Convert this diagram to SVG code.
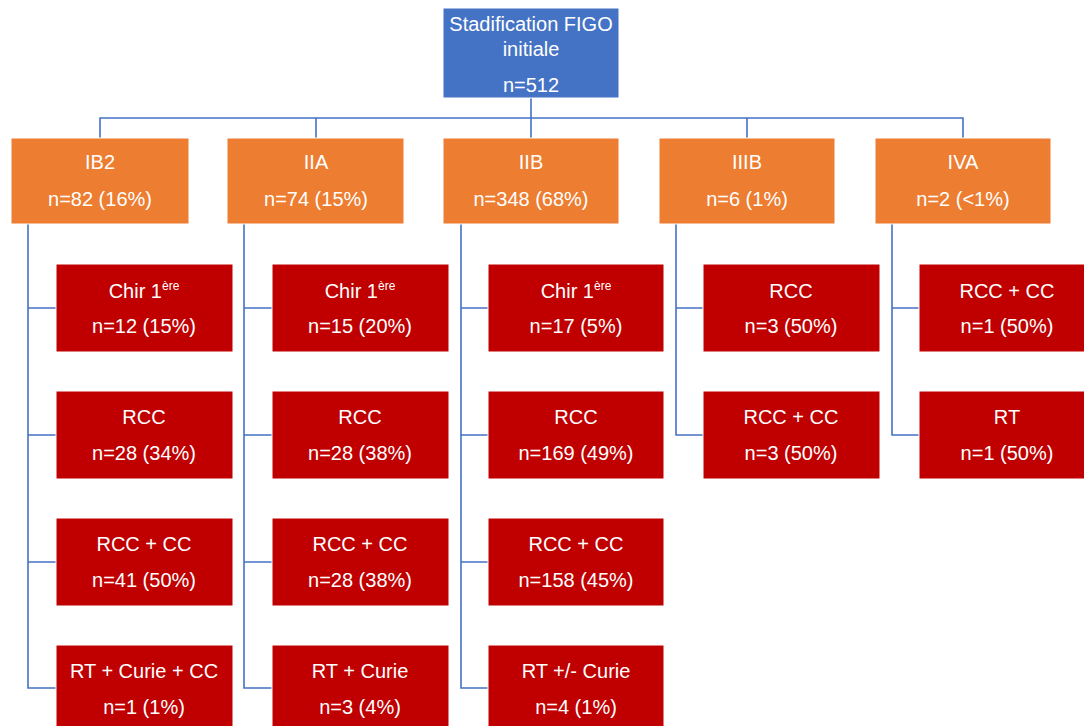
<svg xmlns="http://www.w3.org/2000/svg" width="1084" height="726" viewBox="0 0 1084 726">
<style>
.top{fill:#4472C4;stroke:#ffffff;stroke-width:1}
.stage{fill:#ED7D31;stroke:#ffffff;stroke-width:1}
.trt{fill:#C00000;stroke:#ffffff;stroke-width:1}
text{font-family:"Liberation Sans",Arial,sans-serif;font-size:20px;fill:#ffffff;text-anchor:middle}
.sup{font-size:12px}
.conn{fill:none;stroke:#4472C4;stroke-width:1.6}
</style>
<rect width="1084" height="726" fill="#ffffff"/>
<g id="connectors">
<path class="conn" d="M531,98 V138 M100,138 V118 H963 V138 M316,118 V138 M747,118 V138"/>
<path class="conn" d="M28,224 V688 H56 M28,308 H56 M28,435 H56 M28,562 H56"/>
<path class="conn" d="M244,224 V688 H272 M244,308 H272 M244,435 H272 M244,562 H272"/>
<path class="conn" d="M461,224 V688 H488 M461,308 H488 M461,435 H488 M461,562 H488"/>
<path class="conn" d="M676,224 V435 H703 M676,308 H703"/>
<path class="conn" d="M892,224 V435 H919 M892,308 H919"/>
</g>
<g id="root"><rect class="top" x="443" y="8" width="176" height="90"/><text x="531" y="31">Stadification FIGO</text><text x="531" y="56">initiale</text><text x="531" y="92">n=512</text></g>
<g id="IB2"><rect class="stage" x="11" y="138" width="178" height="86"/><text x="100" y="169">IB2</text><text x="100" y="206">n=82 (16%)</text></g>
<g id="IIA"><rect class="stage" x="227" y="138" width="177" height="86"/><text x="316" y="169">IIA</text><text x="316" y="206">n=74 (15%)</text></g>
<g id="IIB"><rect class="stage" x="443" y="138" width="176" height="86"/><text x="531" y="169">IIB</text><text x="531" y="206">n=348 (68%)</text></g>
<g id="IIIB"><rect class="stage" x="659" y="138" width="176" height="86"/><text x="747" y="169">IIIB</text><text x="747" y="206">n=6 (1%)</text></g>
<g id="IVA"><rect class="stage" x="875" y="138" width="176" height="86"/><text x="963" y="169">IVA</text><text x="963" y="206">n=2 (&lt;1%)</text></g>

<g id="IB2-chir"><rect class="trt" x="56" y="264" width="177" height="88"/><text x="144" y="298">Chir 1<tspan class="sup" dy="-8">ère</tspan></text><text x="144" y="333">n=12 (15%)</text></g>
<g id="IB2-rcc"><rect class="trt" x="56" y="391" width="177" height="88"/><text x="144" y="424">RCC</text><text x="144" y="460">n=28 (34%)</text></g>
<g id="IB2-rcccc"><rect class="trt" x="56" y="518" width="177" height="88"/><text x="144" y="551">RCC + CC</text><text x="144" y="587">n=41 (50%)</text></g>
<g id="IB2-rt"><rect class="trt" x="56" y="645" width="177" height="88"/><text x="144" y="678">RT + Curie + CC</text><text x="144" y="714">n=1 (1%)</text></g>

<g id="IIA-chir"><rect class="trt" x="272" y="264" width="177" height="88"/><text x="360" y="298">Chir 1<tspan class="sup" dy="-8">ère</tspan></text><text x="360" y="333">n=15 (20%)</text></g>
<g id="IIA-rcc"><rect class="trt" x="272" y="391" width="177" height="88"/><text x="360" y="424">RCC</text><text x="360" y="460">n=28 (38%)</text></g>
<g id="IIA-rcccc"><rect class="trt" x="272" y="518" width="177" height="88"/><text x="360" y="551">RCC + CC</text><text x="360" y="587">n=28 (38%)</text></g>
<g id="IIA-rt"><rect class="trt" x="272" y="645" width="177" height="88"/><text x="360" y="678">RT + Curie</text><text x="360" y="714">n=3 (4%)</text></g>

<g id="IIB-chir"><rect class="trt" x="488" y="264" width="176" height="88"/><text x="576" y="298">Chir 1<tspan class="sup" dy="-8">ère</tspan></text><text x="576" y="333">n=17 (5%)</text></g>
<g id="IIB-rcc"><rect class="trt" x="488" y="391" width="176" height="88"/><text x="576" y="424">RCC</text><text x="576" y="460">n=169 (49%)</text></g>
<g id="IIB-rcccc"><rect class="trt" x="488" y="518" width="176" height="88"/><text x="576" y="551">RCC + CC</text><text x="576" y="587">n=158 (45%)</text></g>
<g id="IIB-rt"><rect class="trt" x="488" y="645" width="176" height="88"/><text x="576" y="678">RT +/- Curie</text><text x="576" y="714">n=4 (1%)</text></g>

<g id="IIIB-rcc"><rect class="trt" x="703" y="264" width="177" height="88"/><text x="791" y="298">RCC</text><text x="791" y="333">n=3 (50%)</text></g>
<g id="IIIB-rcccc"><rect class="trt" x="703" y="391" width="177" height="88"/><text x="791" y="424">RCC + CC</text><text x="791" y="460">n=3 (50%)</text></g>

<g id="IVA-rcccc"><rect class="trt" x="919" y="264" width="177" height="88"/><text x="1007" y="298">RCC + CC</text><text x="1007" y="333">n=1 (50%)</text></g>
<g id="IVA-rt"><rect class="trt" x="919" y="391" width="177" height="88"/><text x="1007" y="424">RT</text><text x="1007" y="460">n=1 (50%)</text></g>
</svg>
